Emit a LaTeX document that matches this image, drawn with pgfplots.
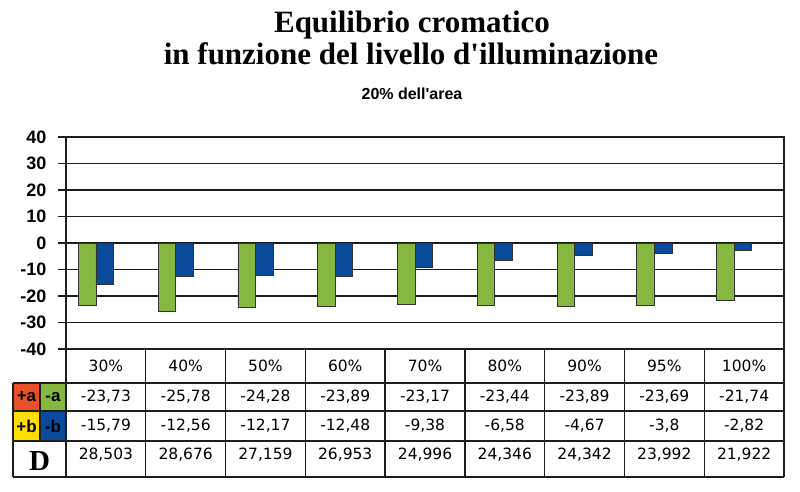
\documentclass[border=0pt]{standalone}
\usepackage{pgfplots}
\pgfplotsset{compat=1.18}
\usepackage{fontspec}
\setmainfont{Liberation Serif}
\newfontfamily\arialfont{Liberation Sans}
\newfontfamily\verdana{DejaVu Sans}
\definecolor{cgreen}{RGB}{134,184,64}
\definecolor{cblue}{RGB}{10,74,154}
\definecolor{cred}{RGB}{232,80,42}
\definecolor{cyellow}{RGB}{255,222,0}
\definecolor{cline}{RGB}{30,30,30}
\begin{document}
\begin{tikzpicture}
\useasboundingbox (0,0) rectangle (800pt,491pt);
\begin{axis}[
  at={(66pt,142pt)}, anchor=south west,
  width=718pt, height=212pt, scale only axis,
  xmin=0, xmax=9, ymin=-40, ymax=40,
  xtick=\empty,
  ytick={-40,-30,-20,-10,0,10,20,30,40},
  yticklabels={-40,-30,-20,-10,0,10,20,30,40},
  yticklabel style={font=\arialfont\bfseries\fontsize{18}{20}\selectfont, text=black, xshift=-8pt},
  ytick pos=left, tick align=outside, major tick length=8pt,
  tick style={cline, line width=1.4pt},
  ymajorgrids, grid style={cline, line width=1.4pt},
  axis line style={cline, line width=1.4pt},
  ybar, bar shift=0pt, bar width=0.22,
  clip=false,
]
\addplot[fill=cgreen, draw=black!80, line width=0.8pt] coordinates {
 (0.265,-23.73) (1.265,-25.78) (2.265,-24.28) (3.265,-23.89) (4.265,-23.17)
 (5.265,-23.44) (6.265,-23.89) (7.265,-23.69) (8.265,-21.74)};
\addplot[fill=cblue, draw=black!80, line width=0.8pt] coordinates {
 (0.485,-15.79) (1.485,-12.56) (2.485,-12.17) (3.485,-12.48) (4.485,-9.38)
 (5.485,-6.58) (6.485,-4.67) (7.485,-3.8) (8.485,-2.82)};
\end{axis}
\begin{scope}[x=1pt,y=-1pt,yshift=491pt]
  % titles
  \node[anchor=base, font=\bfseries\fontsize{31}{34}\selectfont] at (412,33) {Equilibrio cromatico};
  \node[anchor=base, font=\bfseries\fontsize{31}{34}\selectfont] at (411,65) {in funzione del livello d\textquotesingle illuminazione};
  \node[anchor=base, font=\arialfont\bfseries\fontsize{16}{18}\selectfont] at (412,100) {20\% dell\textquotesingle area};
  % legend cells
  \fill[cred] (13,383) rectangle (40,411);
  \fill[cgreen] (40,383) rectangle (66,411);
  \fill[cyellow] (13,411) rectangle (40,441);
  \fill[cblue] (40,411) rectangle (66,441);
  \begin{scope}[cline, line width=1.4pt]
    \draw (13,383) -- (784,383);
    \draw (13,411) -- (784,411);
    \draw (13,441) -- (784,441);
    \draw (13,477) -- (784,477);
    \draw (13,383) -- (13,477);
    \draw (40,383) -- (40,441);
    \foreach \k in {0,...,9} { \draw ({66+79.78*\k},349) -- ({66+79.78*\k},477); }
  \end{scope}
  \begin{scope}[font=\arialfont\bfseries\fontsize{17}{18}\selectfont, text=black]
    \node at (26.5,397) {+a};
    \node at (53,397) {-a};
    \node at (26.5,426) {+b};
    \node at (53,426) {-b};
  \end{scope}
  \node[font=\bfseries\fontsize{29}{30}\selectfont] at (39.5,461) {D};
  \begin{scope}[font=\verdana\fontsize{15.5}{17}\selectfont]
    \foreach \lab [count=\i from 0] in {30\%,40\%,50\%,60\%,70\%,80\%,90\%,95\%,100\%}
      \node at ({66+79.78*(\i+0.5)},366) {\lab};
    \foreach \lab [count=\i from 0] in {-23{,}73,-25{,}78,-24{,}28,-23{,}89,-23{,}17,-23{,}44,-23{,}89,-23{,}69,-21{,}74}
      \node at ({66+79.78*(\i+0.5)},397) {\lab};
    \foreach \lab [count=\i from 0] in {-15{,}79,-12{,}56,-12{,}17,-12{,}48,-9{,}38,-6{,}58,-4{,}67,-3{,}8,-2{,}82}
      \node at ({66+79.78*(\i+0.5)},426) {\lab};
    \foreach \lab [count=\i from 0] in {28{,}503,28{,}676,27{,}159,26{,}953,24{,}996,24{,}346,24{,}342,23{,}992,21{,}922}
      \node at ({66+79.78*(\i+0.5)},455) {\lab};
  \end{scope}
\end{scope}
\end{tikzpicture}
\end{document}
